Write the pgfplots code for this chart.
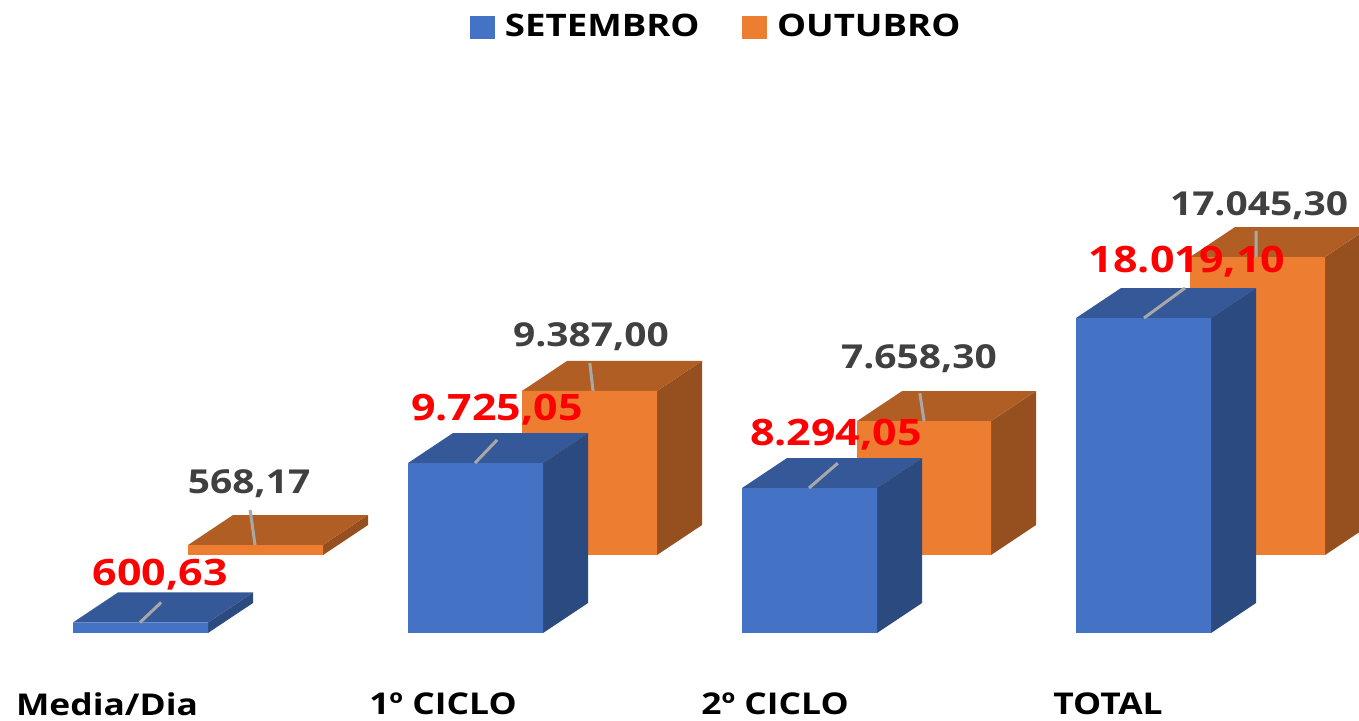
\documentclass[border=0pt]{standalone}
\usepackage{fontspec}
\setmainfont{Open Sans}[BoldFont={Open Sans Bold},BoldFeatures={FakeStretch=1.18}]
\usepackage{pgfplots}
\pgfplotsset{compat=1.18}

\definecolor{bluefront}{HTML}{4472C4}
\definecolor{bluetop}{HTML}{345898}
\definecolor{blueside}{HTML}{2B4A80}
\definecolor{orgfront}{HTML}{ED7D31}
\definecolor{orgtop}{HTML}{B05E24}
\definecolor{orgside}{HTML}{964F1E}
\definecolor{labgray}{HTML}{404040}
\definecolor{leader}{HTML}{A8A8A8}

% one 3D bar: x0, x1, depth start, depth end, value, colours top/side/front
\newcommand{\cuboid}[8]{%
  \addplot3[draw=none,fill=#7,forget plot] coordinates {(#2,#3,0) (#2,#4,0) (#2,#4,#5) (#2,#3,#5) (#2,#3,0)};
  \addplot3[draw=none,fill=#6,forget plot] coordinates {(#1,#3,#5) (#2,#3,#5) (#2,#4,#5) (#1,#4,#5) (#1,#3,#5)};
  \addplot3[draw=none,fill=#8,forget plot] coordinates {(#1,#3,0) (#2,#3,0) (#2,#3,#5) (#1,#3,#5) (#1,#3,0)};
}
\newcommand{\bluebar}[3]{\cuboid{#1}{#2}{0}{1}{#3}{bluetop}{blueside}{bluefront}}
\newcommand{\orgbar}[3]{\cuboid{#1}{#2}{2.6}{3.6}{#3}{orgtop}{orgside}{orgfront}}
\newcommand{\leaderline}[6]{\addplot3[draw=leader,line width=1.5pt,forget plot] coordinates {(#1,#2,#3) (#4,#5,#6)};}
\newcommand{\graylab}[5]{\node[text=labgray,font=\fontsize{16.5pt}{18pt}\bfseries,inner sep=0pt] at (axis cs:#1,#2,#3) [yshift=#4] {#5};}
\newcommand{\redlab}[5]{\node[text=red,font=\fontsize{18.2pt}{20pt}\bfseries,inner sep=0pt] at (axis cs:#1,#2,#3) [yshift=#4] {#5};}

\begin{document}
\begin{tikzpicture}
\begin{axis}[
  anchor=origin, at={(0,0)},
  x={(0.5pt,0pt)}, y={(22.5pt,15pt)}, z={(0pt,0.00874pt)},
  xmin=0, xmax=1200, ymin=0, ymax=3.6, zmin=0, zmax=18100,
  axis line style={draw=none},
  major tick length=0pt,
  ytick=\empty, ztick=\empty,
  xtick={107,443,775,1108},
  xticklabels={Media/Dia,1º CICLO,2º CICLO,TOTAL},
  xticklabel style={font=\fontsize{15pt}{17pt}\bfseries,text=black,anchor=north,yshift=-29.5pt,inner sep=0pt},
  clip=false,
  legend columns=2,
  legend style={draw=none,fill=none,at={(axis cs:717,0,34669)},anchor=center,
    font=\fontsize{15.5pt}{17pt}\bfseries,/tikz/every even column/.append style={column sep=19pt}},
  legend image code/.code={\fill[#1] (0pt,-5.5pt) rectangle (12pt,5.5pt);\path[draw=none] (0pt,0pt) -- (15.5pt,0pt);},
]
\addlegendimage{bluefront}
\addlegendentry{SETEMBRO}
\addlegendimage{orgfront}
\addlegendentry{OUTUBRO}

% OUTUBRO, behind
\orgbar{71}{206}{568.17}
\orgbar{405}{540}{9387.00}
\orgbar{740}{874}{7658.30}
\orgbar{1073}{1208}{17045.30}
% SETEMBRO, in front
\bluebar{73}{208}{600.63}
\bluebar{408}{543}{9725.05}
\bluebar{742}{877}{8294.05}
\bluebar{1076}{1211}{18019.10}

\leaderline{138}{2.6}{568.17}{80.5}{3.77}{568.17}
\leaderline{476}{2.6}{9387.00}{431}{3.53}{9387.00}
\leaderline{807}{2.6}{7658.30}{761}{3.53}{7658.30}
\leaderline{1139}{2.6}{17045.30}{1100}{3.47}{17045.30}
\leaderline{140}{0}{600.63}{131}{0.67}{600.63}
\leaderline{475}{0}{9725.05}{462.5}{0.77}{9725.05}
\leaderline{809}{0}{8294.05}{800.5}{0.83}{8294.05}
\leaderline{1144}{0}{18019.10}{1140}{1}{18019.10}

\graylab{87}{3.6}{568.17}{15.5pt}{568,17}
\graylab{429}{3.6}{9387.00}{12pt}{9.387,00}
\graylab{757}{3.6}{7658.30}{16pt}{7.658,30}
\graylab{1097}{3.6}{17045.30}{10.5pt}{17.045,30}
\redlab{115}{1}{600.63}{8.75pt}{600,63}
\redlab{452}{1}{9725.05}{11.5pt}{9.725,05}
\redlab{791}{1}{8294.05}{11.5pt}{8.294,05}
\redlab{1142}{1}{18019.10}{13pt}{18.019,10}
\end{axis}
\pgfresetboundingbox
\path (0pt,-44pt) rectangle (679.5pt,316.5pt);
\end{tikzpicture}
\end{document}
